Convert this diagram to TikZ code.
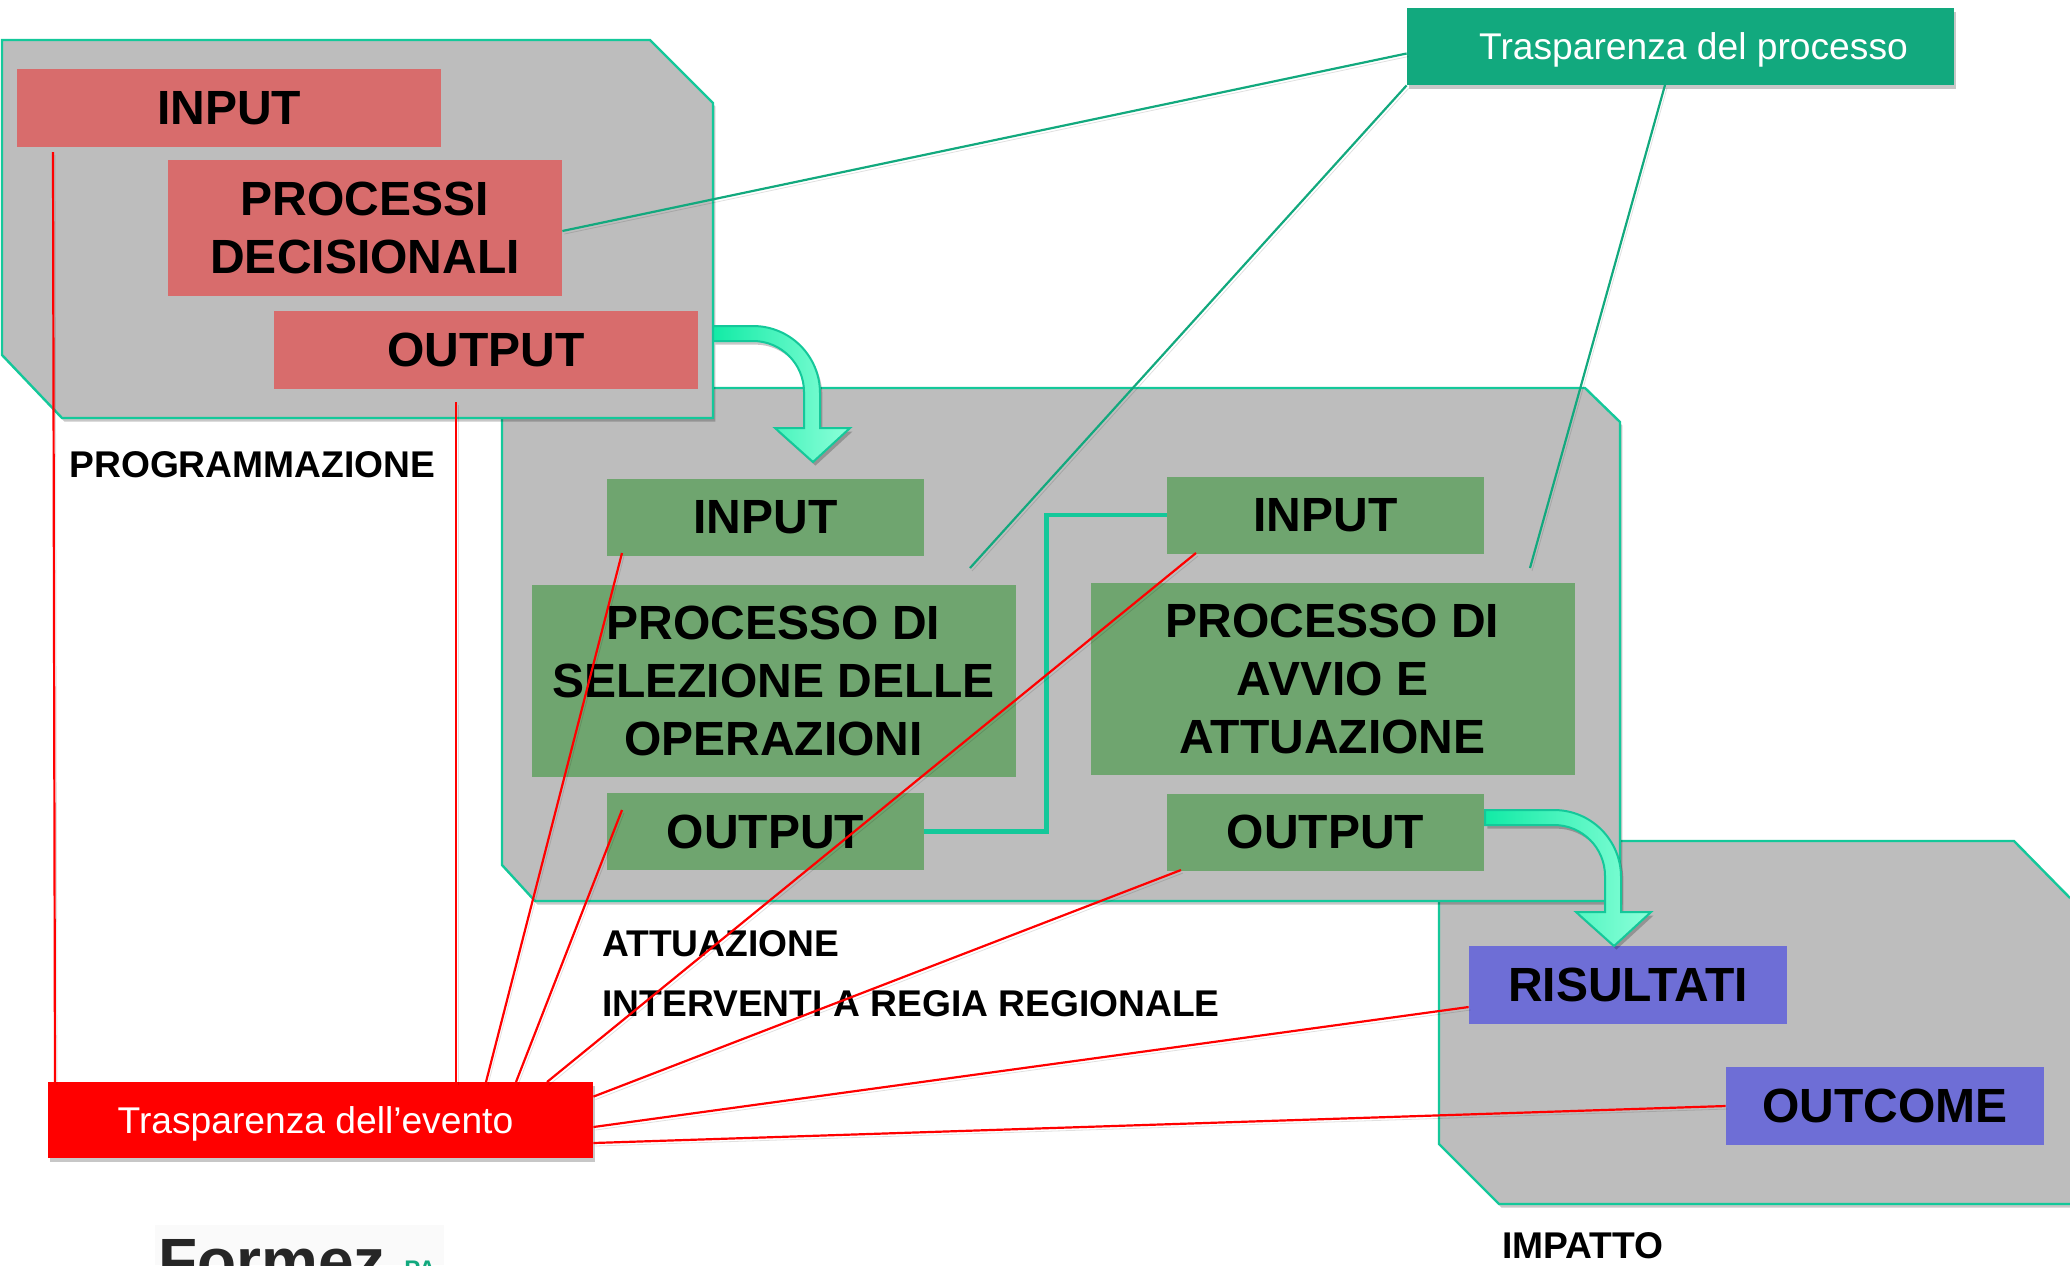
\documentclass[tikz,border=0pt]{standalone}
\usepackage{fontspec}
\setmainfont{Liberation Sans}
\usetikzlibrary{shadows}
\definecolor{blockgray}{HTML}{BDBDBD}
\definecolor{blockline}{HTML}{14C89A}
\definecolor{progred}{HTML}{D86C6C}
\definecolor{attgreen}{HTML}{6FA56F}
\definecolor{impblue}{HTML}{6E6ED6}
\definecolor{tprocgreen}{HTML}{12A97E}
\definecolor{arrowdark}{HTML}{12EBA6}
\definecolor{arrowlight}{HTML}{8CFFD9}
\tikzset{
  softshadow/.style={drop shadow={shadow xshift=1.2pt, shadow yshift=-1.8pt, opacity=0.22, fill=black}},
  block/.style={draw=blockline, line width=1.2pt, fill=blockgray, softshadow},
  box/.style={inner sep=0pt, align=center, font=\fontsize{24}{29}\selectfont\bfseries},
  progbox/.style={box, fill=progred, minimum width=212pt, minimum height=39pt},
  attbox/.style={box, fill=attgreen, minimum width=158.5pt, minimum height=38.5pt},
  attproc/.style={box, fill=attgreen, minimum width=242pt, minimum height=96pt},
  impbox/.style={box, fill=impblue, minimum width=159pt, minimum height=39pt},
  transp/.style={inner sep=0pt, text depth=0pt, text=white, softshadow, font=\fontsize{18.6}{22}\selectfont},
  caption/.style={anchor=west, inner sep=0pt, font=\fontsize{18.6}{22}\selectfont\bfseries},
  lineshadow/.style={preaction={draw=black, opacity=0.12, transform canvas={shift={(1pt,-1.5pt)}}}},
  procline/.style={draw=tprocgreen, line width=1.1pt, lineshadow},
  eventline/.style={draw=red, line width=1.1pt, lineshadow},
  bigarrow/.style={draw=blockline, line width=1pt, left color=arrowdark, right color=arrowlight, softshadow}
}
\newcommand{\bentarrow}[2]{
  \path[bigarrow] (#1) -- ++(#2,0) arc[start angle=90, end angle=0, radius=33.5pt] -- ++(0,35)
    -- ++(30,0) -- ++(-37,34) -- ++(-38,-34) -- ++(29,0) -- ++(0,-36)
    arc[start angle=0, end angle=90, radius=25.5pt] -- ++(-#2,0) -- cycle;
}
\begin{document}
\begin{tikzpicture}[x=0.5pt, y=-0.5pt]
\useasboundingbox (0,0) rectangle (2070,1265);

% blocks
\path[fill=blockgray, softshadow] (2070,898) -- (2014,841) -- (1439,841) -- (1439,1144) -- (1499,1204) -- (2070,1204);
\draw[draw=blockline, line width=1.2pt] (2070,898) -- (2014,841) -- (1439,841) -- (1439,1144) -- (1499,1204) -- (2070,1204);
\draw[block] (502,388) -- (1585,388) -- (1620,422) -- (1620,901) -- (535,901) -- (502,865) -- cycle;
\draw[block] (2,40) -- (650,40) -- (713,103) -- (713,418) -- (62,418) -- (2,355) -- cycle;

% boxes
\node[progbox] (progInput) at (229,108) {INPUT};
\node[progbox, minimum width=197pt, minimum height=68pt] (progProc) at (365,228) {PROCESSI\\DECISIONALI};
\node[progbox] (progOutput) at (486,350) {OUTPUT};

\node[attbox] (attInputA) at (765.5,517.5) {INPUT};
\node[attproc] (attProcA) at (773.5,681) {PROCESSO DI\\SELEZIONE DELLE\\OPERAZIONI};
\node[attbox] (attOutputA) at (765.5,831.5) {OUTPUT};
\node[attbox] (attInputB) at (1325.5,515) {INPUT};
\node[attproc] (attProcB) at (1332.5,678.5) {PROCESSO DI\\AVVIO E\\ATTUAZIONE};
\node[attbox] (attOutputB) at (1325.5,832) {OUTPUT};

\node[impbox] (risultati) at (1628,985) {RISULTATI};
\node[impbox] (outcome) at (1885,1106) {OUTCOME};

\node[transp, fill=tprocgreen, minimum width=273.5pt, minimum height=38.5pt] (tproc) at (1680.5,46.5) {\hspace*{13pt}Trasparenza del processo};
\node[transp, fill=red, minimum width=272.5pt, minimum height=38pt] (tevent) at (320.5,1120) {\hspace*{-5pt}Trasparenza dell’evento};

% captions
\node[caption] (progLabel) at (69,465) {PROGRAMMAZIONE};
\node[caption] (attLabelA) at (602,944) {ATTUAZIONE};
\node[caption] (attLabelB) at (602,1004) {INTERVENTI A REGIA REGIONALE};
\node[caption] (impLabel) at (1502,1246) {IMPATTO};

% logo, cut by the page
\fill[white!98!black] (155,1225) rectangle (444,1265);
\begin{scope}
\clip (155,1225) rectangle (444,1265);
\node[anchor=base west, inner sep=0pt, text=black!85, font=\fontsize{32}{32}\selectfont\bfseries] (logo) at (158,1283) {Formez};
\node[anchor=base west, inner sep=0pt, text=tprocgreen, font=\fontsize{12}{12}\selectfont\bfseries] (logoPa) at (404,1277) {PA};
\end{scope}

% arrows
\coordinate (progArrow) at (713,326);
\coordinate (attArrow) at (1485,810);
\bentarrow{progArrow}{40}
\bentarrow{attArrow}{69}
\draw[draw=blockline, line width=2.4pt] (attOutputA.east) -- ++(122,0) |- (attInputB.west);

% lines to the process box
\coordinate (procEndA) at (970,568);
\coordinate (procEndB) at (1530,568);
\coordinate (procStartB) at (1665,85);
\draw[procline] ([yshift=-1.5pt]progProc.east) -- ([yshift=-3.5pt]tproc.west);
\draw[procline] (procEndA) -- (tproc.south west);
\draw[procline] (procEndB) -- (procStartB);

% lines to the event box
\coordinate (eventA) at (53,152);
\coordinate (eventB) at (456,402);
\coordinate (eventC) at (622,553);
\coordinate (eventD) at (622,810);
\coordinate (eventE) at (1196,553);
\coordinate (eventF) at (1181,870);
\coordinate (eventTopA) at (55,1082);
\coordinate (eventTopB) at (456,1082);
\coordinate (eventTopC) at (486,1082);
\coordinate (eventTopD) at (516,1082);
\coordinate (eventTopE) at (547,1082);
\draw[eventline] (eventA) -- (eventTopA);
\draw[eventline] (eventB) -- (eventTopB);
\draw[eventline] (eventC) -- (eventTopC);
\draw[eventline] (eventD) -- (eventTopD);
\draw[eventline] (eventE) -- (eventTopE);
\draw[eventline] (eventF) -- ([yshift=-7.5pt]tevent.north east);
\draw[eventline] ([yshift=-11pt]risultati.west) -- ([yshift=-3.5pt]tevent.east);
\draw[eventline] (outcome.west) -- ([yshift=-11.5pt]tevent.east);
\end{tikzpicture}
\end{document}
